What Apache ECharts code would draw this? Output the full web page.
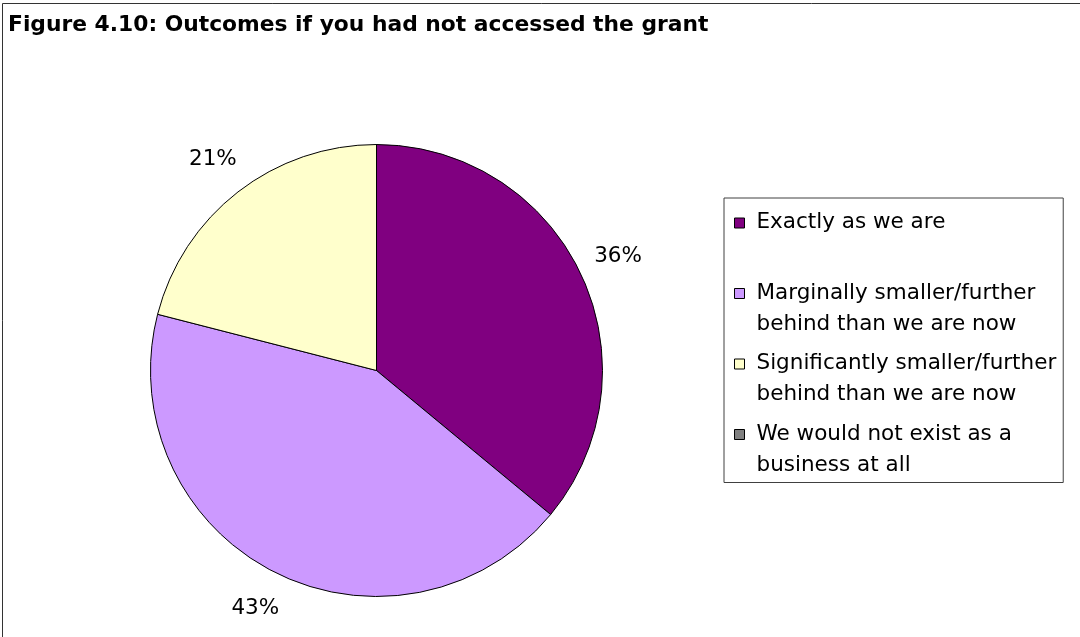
<!DOCTYPE html>
<html>
<head>
<meta charset="utf-8">
<script src="https://cdn.jsdelivr.net/npm/echarts@6/dist/echarts.min.js"></script>
<style>
  html, body { margin: 0; padding: 0; background: #fff; }
  #chart { width: 1080px; height: 637px; }
</style>
</head>
<body>
<div id="chart"></div>
<script>
// Survey answers: what would have happened without the grant
const chartTitle = 'Figure 4.10: Outcomes if you had not accessed the grant';
const categories = [
  'Exactly as we are',
  'Marginally smaller/further\nbehind than we are now',
  'Significantly smaller/further\nbehind than we are now',
  'We would not exist as a\nbusiness at all'
];
const shares = [36, 43, 21, 0];          // percent of respondents
const palette = ['#800080', '#CC99FF', '#FFFFCC', '#808080'];

const pieCenter = [376.5, 370.5];
const pieRadius = 226;
const labelRadius = 267;
const total = shares.reduce((a, b) => a + b, 0);

// Percentage labels sit centred on each slice's mid angle, just outside the rim
function labelSpot(idx) {
  let before = 0;
  for (let i = 0; i < idx; i++) before += shares[i];
  const mid = (before + shares[idx] / 2) / total * Math.PI * 2;
  return [pieCenter[0] + labelRadius * Math.sin(mid), pieCenter[1] - labelRadius * Math.cos(mid)];
}

const chart = echarts.init(document.getElementById('chart'), null, { renderer: 'canvas' });
chart.setOption({
  backgroundColor: '#fff',
  animation: false,
  title: {
    text: chartTitle,
    left: 8, top: 14, padding: 0,
    textStyle: { fontFamily: 'DejaVu Sans', fontWeight: 'bold', fontSize: 21.8, color: '#000' }
  },
  legend: {
    orient: 'vertical',
    left: 724, top: 198,
    padding: [9, 7, 2, 10],
    itemGap: 8.5,
    itemWidth: 17, itemHeight: 40,
    // square swatch pinned to the first text line
    icon: 'path://M0,0H10V10H0Z M17,40',
    borderColor: '#404040', borderWidth: 1,
    itemStyle: { borderColor: '#000', borderWidth: 1 },
    textStyle: { fontFamily: 'DejaVu Sans', fontSize: 21.5, lineHeight: 31, color: '#000' },
    formatter: name => (name.indexOf('\n') < 0 ? name + '\n ' : name),
    selectedMode: false,
    data: categories
  },
  series: [{
    type: 'pie',
    center: pieCenter,
    radius: pieRadius,
    startAngle: 90,
    clockwise: true,
    avoidLabelOverlap: false,
    minShowLabelAngle: 1,
    itemStyle: { borderColor: '#000', borderWidth: 1 },
    label: {
      show: true, position: 'outside',
      formatter: p => p.value + '%',
      fontFamily: 'DejaVu Sans', fontSize: 21.5, color: '#000'
    },
    labelLine: { show: false },
    labelLayout: p => {
      const s = labelSpot(p.dataIndex);
      return { x: s[0], y: s[1], align: 'center', verticalAlign: 'middle' };
    },
    emphasis: { disabled: true },
    data: categories.map((c, i) => ({ name: c, value: shares[i], itemStyle: { color: palette[i] } }))
  }],
  graphic: [{
    type: 'rect', silent: true, z: -1,
    shape: { x: 2.5, y: 3.5, width: 1200, height: 800 },
    style: { fill: 'none', stroke: '#333', lineWidth: 1 }
  }]
});
</script>
</body>
</html>
